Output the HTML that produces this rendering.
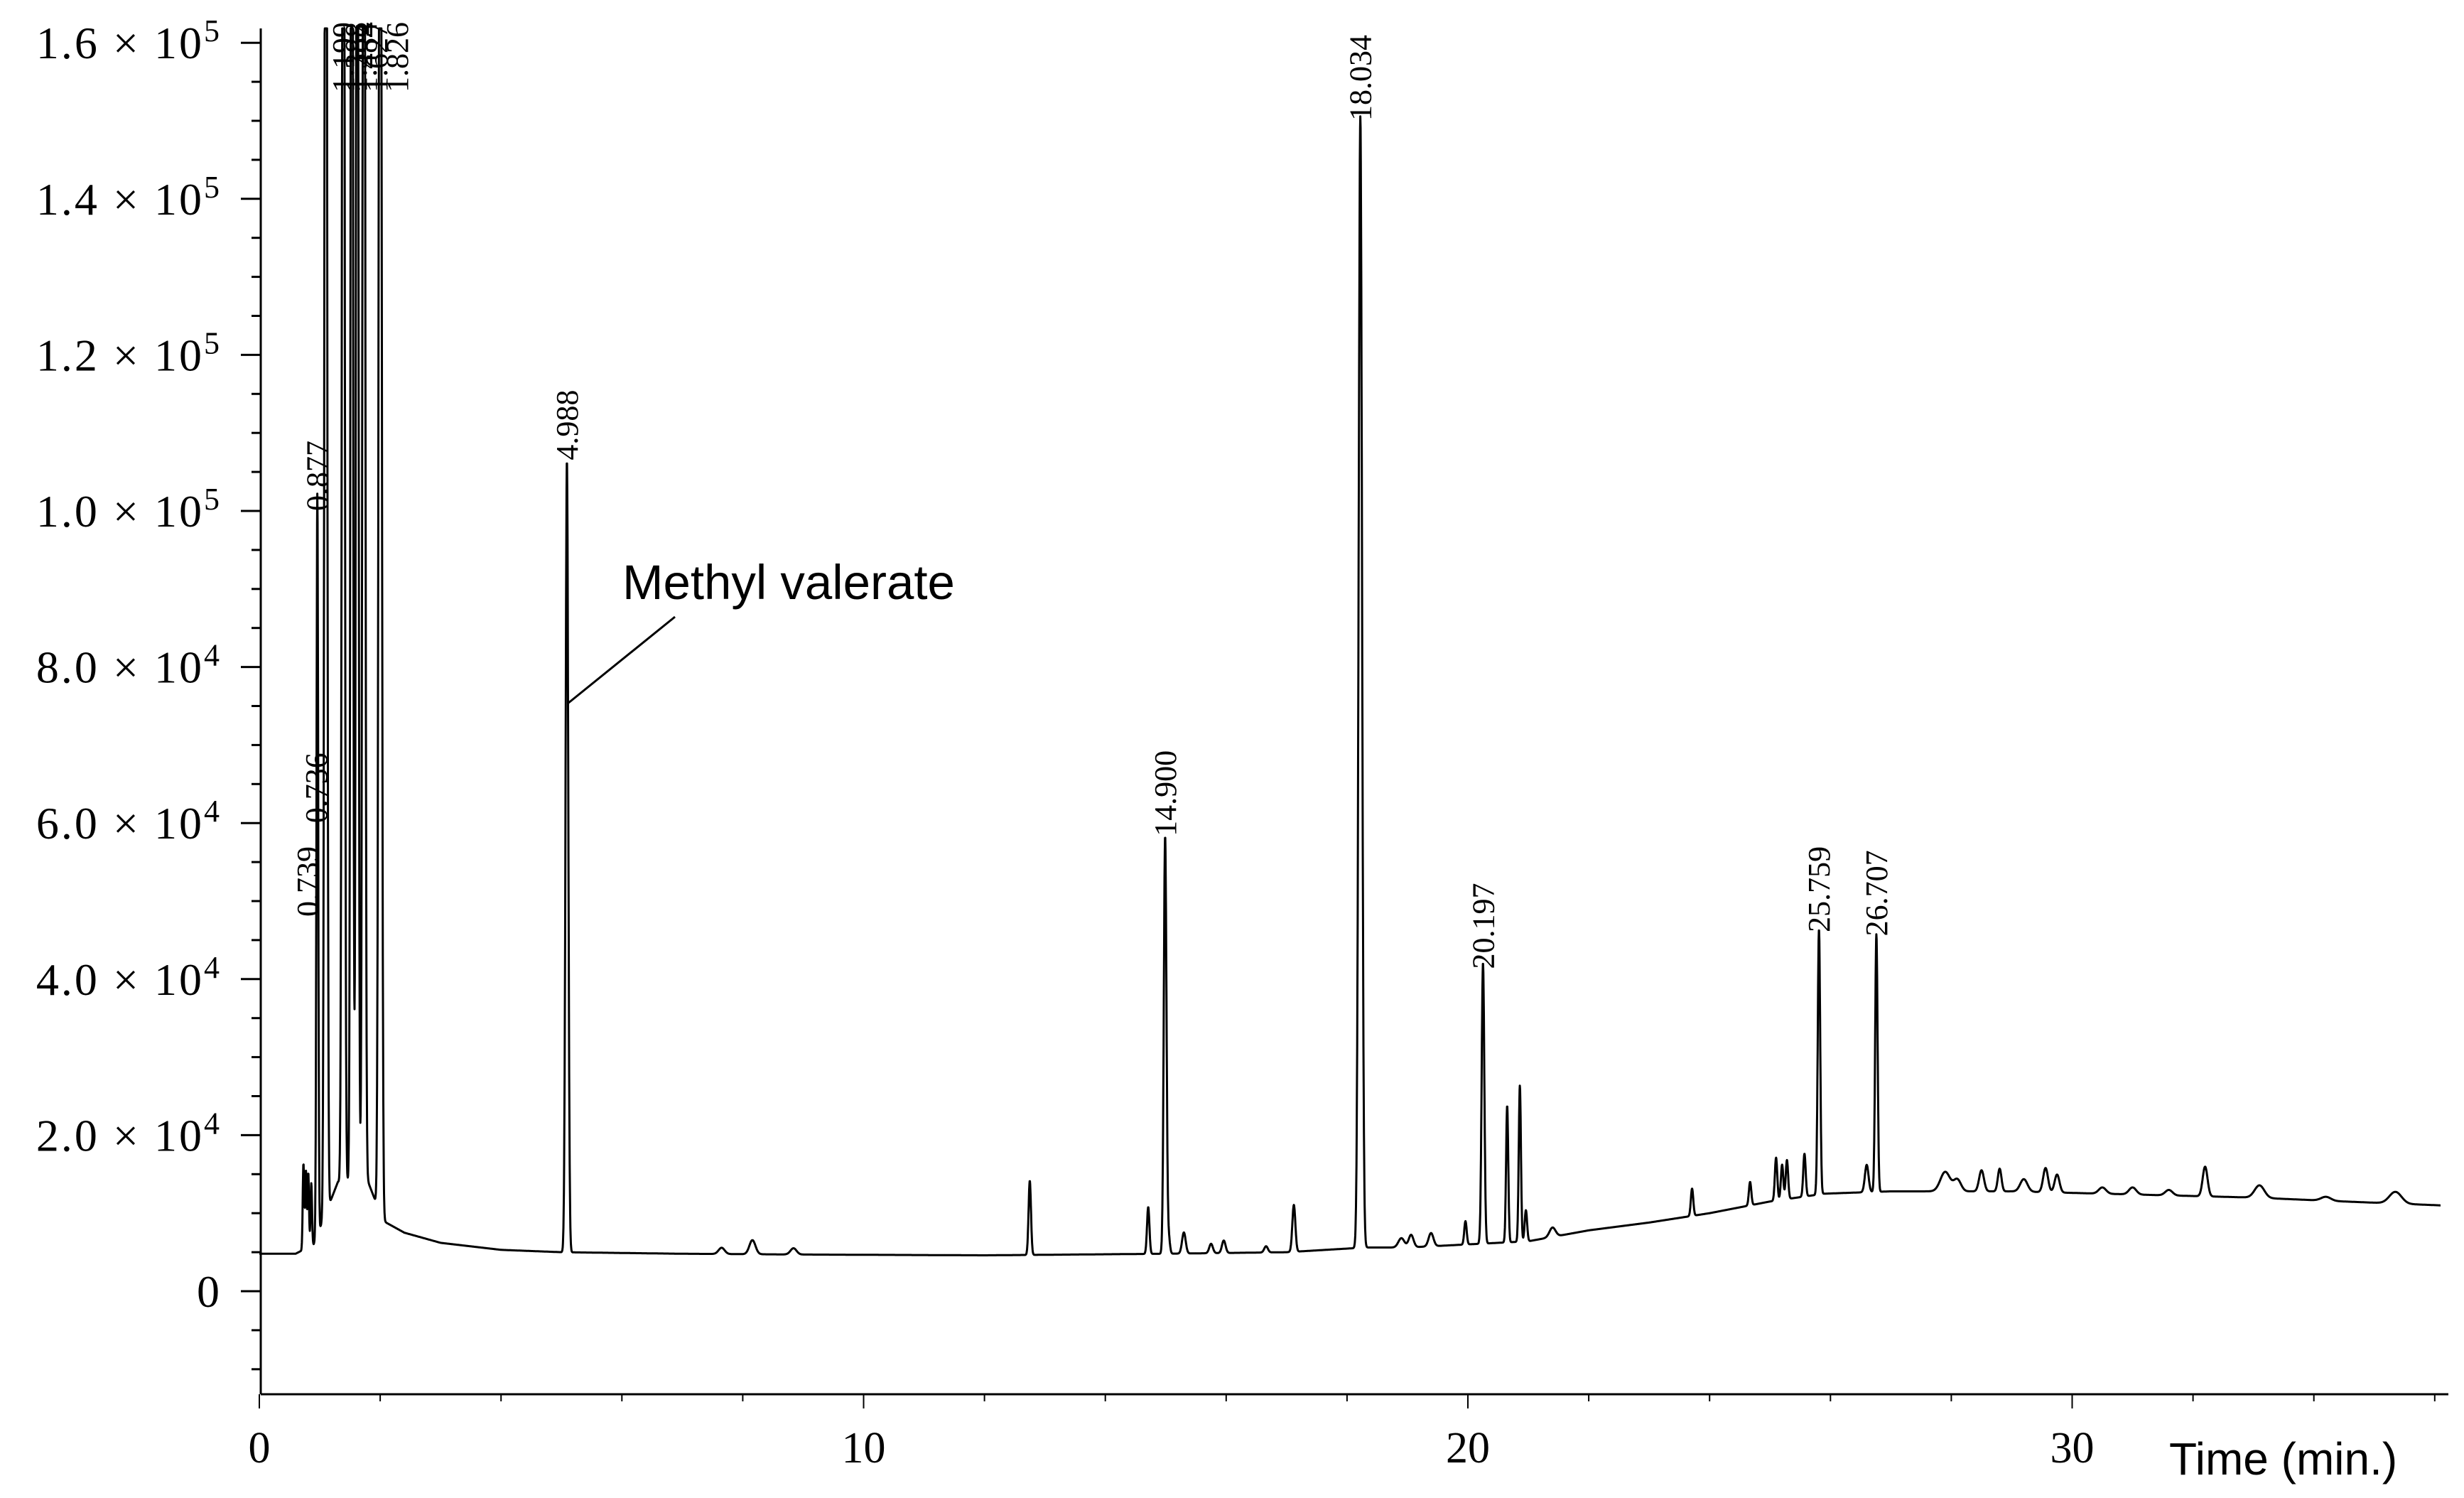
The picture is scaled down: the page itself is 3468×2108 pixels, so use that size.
<!DOCTYPE html>
<html><head><meta charset="utf-8"><style>
html,body{margin:0;padding:0;background:#fff;}
svg{display:block;}
</style></head><body>
<svg id="chart" width="3468" height="2108" viewBox="0 0 3468 2108" xmlns="http://www.w3.org/2000/svg">
<g id="axes"></g>
<g id="series"></g>
<g id="labels"></g>
<text x="876" y="843" font-family="'Liberation Sans', sans-serif" font-size="69" fill="#000">Methyl valerate</text>
<line x1="950" y1="868" x2="799" y2="990" stroke="#000" stroke-width="3"/>
<text x="3053" y="2075" font-family="'Liberation Sans', sans-serif" font-size="64" fill="#000">Time (min.)</text>
</svg>
<script>
// ---- data ----
const peakTimes   = [0.73,0.77,0.81,0.86,0.96,1.10,1.39,1.53,1.62,1.73,2.00,5.09,7.65,8.16,8.84,12.75,14.71,14.99,15.05,15.30,15.75,15.96,16.66,17.12,18.22,18.90,19.06,19.39,19.96,20.25,20.65,20.86,20.96,21.40,23.71,24.67,25.10,25.20,25.28,25.57,25.81,26.60,26.76,27.90,28.10,28.50,28.80,29.20,29.56,29.75,30.50,31.00,31.60,32.20,33.10,34.20,35.35];
const peakHeights = [11000,10000,9500,8000,95000,250000,250000,250000,250000,250000,250000,101500,800,1800,800,9500,6000,53500,2000,2700,1200,1600,800,6000,145000,1200,1600,1700,3000,36000,17500,20000,4000,1200,3500,3000,5500,4500,5000,5500,34000,3500,33000,2500,1500,2700,2900,1600,3100,2300,800,900,700,3800,1600,500,1500];
const peakWidths  = [0.012,0.012,0.012,0.012,0.014,0.02,0.02,0.018,0.018,0.02,0.022,0.022,0.05,0.05,0.05,0.02,0.02,0.022,0.02,0.03,0.03,0.03,0.03,0.025,0.028,0.05,0.04,0.04,0.02,0.022,0.018,0.018,0.02,0.05,0.02,0.02,0.02,0.02,0.02,0.02,0.02,0.03,0.02,0.08,0.06,0.04,0.03,0.06,0.04,0.04,0.06,0.06,0.06,0.04,0.08,0.08,0.1];
const baseTimes   = [0,0.6,0.9,1.3,1.8,2.05,2.4,3.0,4.0,5.0,7.0,9.0,12.0,15.0,17.0,18.3,19.0,20.0,21.0,22.0,23.0,24.0,25.0,25.9,27.0,29.0,31.0,33.0,34.5,36.1];
const baseValues  = [4800,4800,6000,14000,14000,9000,7500,6200,5300,5000,4800,4700,4600,4800,5000,5600,5600,6000,6400,7800,8800,10000,11500,12500,12800,12800,12400,12000,11500,11000];
const yTickValues = [0,20000,40000,60000,80000,100000,120000,140000,160000];
const yTickMant   = ["0","2.0","4.0","6.0","8.0","1.0","1.2","1.4","1.6"];
const yTickExp    = ["","4","4","4","4","5","5","5","5"];
const xTickValues = [0,10,20,30];
const xTickLabels = ["0","10","20","30"];
const labelTimes  = [0.80,0.94,0.96,1.39,1.53,1.62,1.73,2.00,5.09,14.99,18.22,20.25,25.81,26.76];
const labelTexts  = ["0.739","0.736","0.877","1.199","1.388","1.484","1.627","1.826","4.988","14.900","18.034","20.197","25.759","26.707"];
const labelValues = [48000,60000,100000,155000,155000,155000,155000,155000,106500,58300,150000,41300,46000,45500];

// ---- scales ----
const X0=365, PXMIN=85.05, Y0=1817, PXUNIT=219.6/20000, TOP=40, AXB=1962, AXR=3446;
const xs=t=>X0+t*PXMIN;
const ys=v=>Y0-v*PXUNIT;
const NS='http://www.w3.org/2000/svg';
function mk(tag,attrs,parent){const e=document.createElementNS(NS,tag);for(const k in attrs)e.setAttribute(k,attrs[k]);parent.appendChild(e);return e;}
const axes=document.getElementById('axes'), series=document.getElementById('series'), labels=document.getElementById('labels');

let yl=mk('line',{x1:367,y1:TOP,x2:367,y2:AXB,stroke:'#000','stroke-width':3},axes);


let xl=mk('line',{x1:367,y1:AXB,x2:AXR,y2:AXB,stroke:'#000','stroke-width':3},axes);



for(let v=-10000;v<=160000;v+=5000){
  const major=v%20000===0 && v>=0;
  const t=mk('line',{x1:367-(major?28:13),y1:ys(v),x2:367,y2:ys(v),stroke:'#000','stroke-width':3},axes);
  
  
}
yTickValues.forEach((v,i)=>{
  const tx=mk('text',{x:312,y:ys(v)+22,'text-anchor':'end','font-family':"'Liberation Serif', serif",'font-size':64,'letter-spacing':3,fill:'#000'},axes);
  
  
  if(yTickExp[i]===''){tx.textContent=yTickMant[i];}
  else{
    tx.appendChild(document.createTextNode(yTickMant[i]+' × 10'));
    const s=mk('tspan',{dy:-24,'font-size':44},tx);s.textContent=yTickExp[i];
    
    
  }
});
for(let m=0;m<=36;m+=2){
  const major=m%10===0;
  const t=mk('line',{x1:xs(m),y1:AXB,x2:xs(m),y2:AXB+(major?20:10),stroke:'#000','stroke-width':2},axes);
  
  
}
xTickValues.forEach((v,i)=>{
  const tx=mk('text',{x:xs(v),y:2058,'text-anchor':'middle','font-family':"'Liberation Serif', serif",'font-size':62,fill:'#000'},axes);
  tx.textContent=xTickLabels[i];
  
  
});

function baseline(t){
  for(let i=1;i<baseTimes.length;i++){
    if(t<=baseTimes[i]){const a=baseTimes[i-1],b=baseTimes[i];const f=(t-a)/(b-a);return baseValues[i-1]+f*(baseValues[i]-baseValues[i-1]);}
  }
  return baseValues[baseValues.length-1];
}
let pts=[];
for(let t=0;t<=36.1;t+=0.004){
  let v=baseline(t);
  for(let i=0;i<peakTimes.length;i++){const d=(t-peakTimes[i])/peakWidths[i];if(Math.abs(d)<6)v+=peakHeights[i]*Math.exp(-0.5*d*d);}
  let y=Math.max(TOP,ys(v));
  pts.push(xs(t).toFixed(1)+','+y.toFixed(1));
}
const pl=mk('polyline',{points:pts.join(' '),fill:'none',stroke:'#000','stroke-width':3,'stroke-linejoin':'round'},series);



labelTimes.forEach((t,i)=>{
  const x=xs(t)+(i>=3&&i<=7?(i-3)*6:0), yb=Math.max(ys(labelValues[i]),130);
  const tx=mk('text',{x:0,y:0,transform:`translate(${x+15},${yb}) rotate(-90)`,'font-family':"'Liberation Serif', serif",'font-size':44,fill:'#000'},labels);
  tx.textContent=labelTexts[i];
  
  
});
</script>
</body></html>
